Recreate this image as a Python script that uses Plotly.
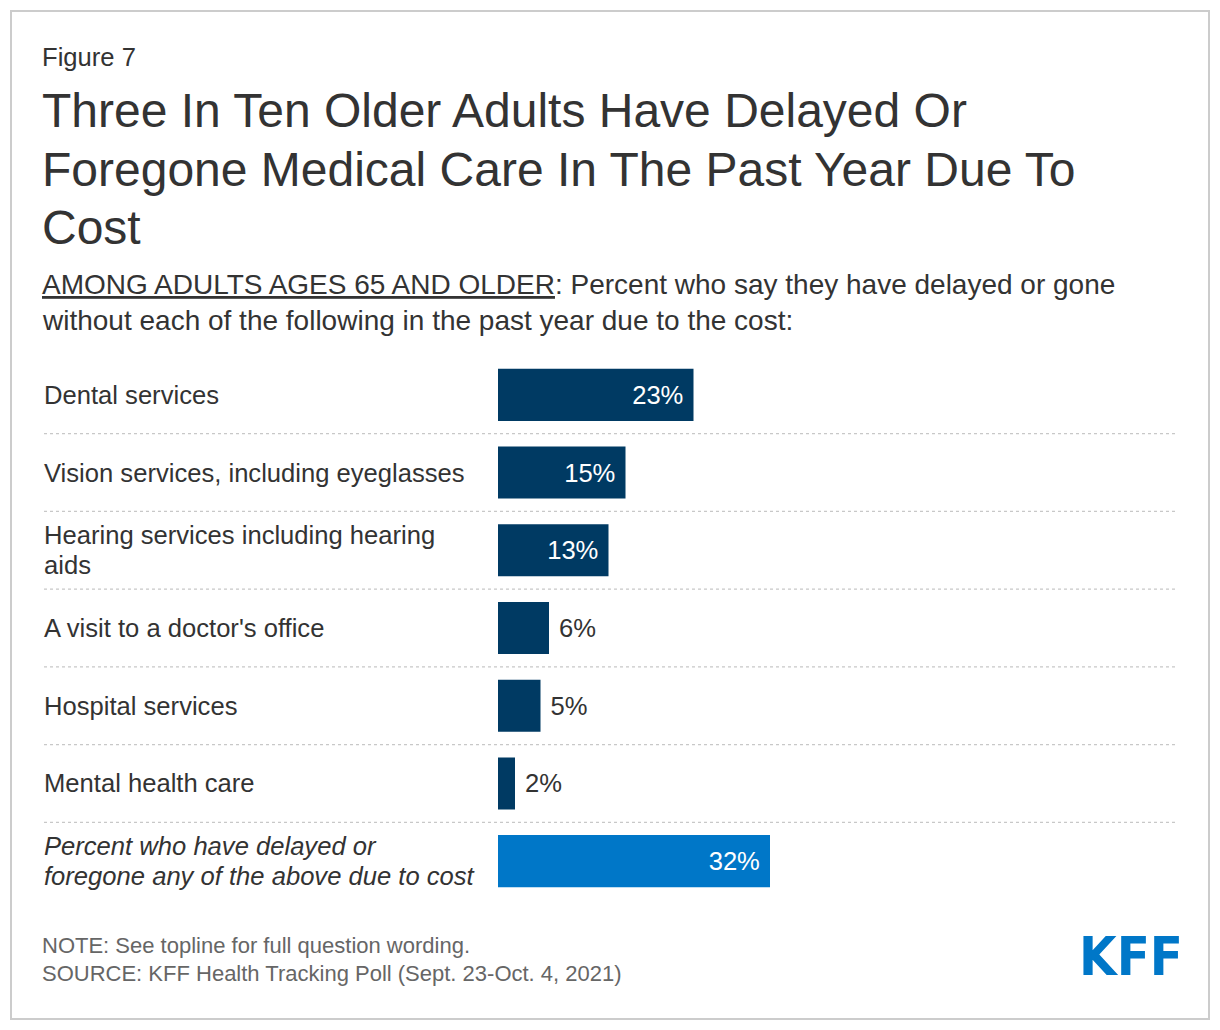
import plotly.graph_objects as go

# ---- data ----
categories = [
    "Dental services",
    "Vision services, including eyeglasses",
    "Hearing services including hearing<br>aids",
    "A visit to a doctor's office",
    "Hospital services",
    "Mental health care",
    "<i>Percent who have delayed or</i><br><i>foregone any of the above due to cost</i>",
]
values = [23, 15, 13, 6, 5, 2, 32]
bar_colors = ["#003A63", "#003A63", "#003A63", "#003A63", "#003A63", "#003A63", "#0077C8"]

fig_label = "Figure 7"
title_lines = [
    "Three In Ten Older Adults Have Delayed Or",
    "Foregone Medical Care In The Past Year Due To",
    "Cost",
]
subtitle_lines = [
    "<u>AMONG ADULTS AGES 65 AND OLDER</u>: Percent who say they have delayed or gone",
    "without each of the following in the past year due to the cost:",
]
note_lines = [
    "NOTE: See topline for full question wording.",
    "SOURCE: KFF Health Tracking Poll (Sept. 23-Oct. 4, 2021)",
]

# ---- geometry (page pixel targets; page body has an 8px margin) ----
OFF = 8
W, H = 1220 - OFF, 1030 - OFF
L, R, T, B = 44 - OFF, 1176 - OFF, 356 - OFF, 900 - OFF
X0_PX = 498 - OFF          # pixel where value 0 sits
PX_PER_UNIT = 8.5
FONT = "Liberation Sans, Arial, sans-serif"
DARK = "#333333"
TEXT_PAD = 2               # annotation box padding


def px(x):
    return (x - OFF - L) / (R - L)


def py(y):
    return (B - (y - OFF)) / (B - T)


xmin = -(X0_PX - L) / PX_PER_UNIT
xmax = (R - X0_PX) / PX_PER_UNIT

NBSP = "\u00a0"
positions = ["inside" if v >= 10 else "outside" for v in values]
texts = [f"{v}%{NBSP}" if p == "inside" else f"{NBSP}{v}%" for v, p in zip(values, positions)]

fig = go.Figure(
    go.Bar(
        x=values,
        y=categories,
        orientation="h",
        marker=dict(color=bar_colors, line=dict(width=0)),
        width=0.67,
        text=texts,
        textposition=positions,
        insidetextanchor="end",
        insidetextfont=dict(family=FONT, size=25.6, color="white"),
        outsidetextfont=dict(family=FONT, size=25.6, color=DARK),
        constraintext="none",
        cliponaxis=False,
        hoverinfo="skip",
    )
)

annotations = []


def add_lines(lines, x_px, y_px_first, gap, size, color):
    for j, line in enumerate(lines):
        annotations.append(dict(
            text=line, x=px(x_px - TEXT_PAD), y=py(y_px_first + j * gap), xref="paper", yref="paper",
            xanchor="left", yanchor="middle", showarrow=False,
            font=dict(family=FONT, size=size, color=color),
        ))


add_lines([fig_label], 42, 57, 0, 25.6, DARK)
add_lines(title_lines, 42, 111, 58, 48, DARK)
add_lines(subtitle_lines, 42, 285, 36, 28, DARK)
add_lines(note_lines, 42, 945, 28, 22, "#666666")

# category labels
LABEL_GAP = 30
for cat in categories:
    parts = cat.split("<br>")
    n = len(parts)
    for j, part in enumerate(parts):
        annotations.append(dict(
            text=part, x=px(44 - TEXT_PAD), y=cat, xref="paper", yref="y",
            xanchor="left", yanchor="middle", showarrow=False,
            yshift=-(j - (n - 1) / 2) * LABEL_GAP,
            font=dict(family=FONT, size=25.6, color=DARK),
        ))

# KFF logo
annotations.append(dict(
    text="<b>KFF</b>", x=px(1077), y=py(956), xref="paper", yref="paper",
    xanchor="left", yanchor="middle", showarrow=False,
    font=dict(family="Liberation Sans Narrow, DejaVu Sans Condensed, Liberation Sans", size=54, color="#0077C8"),
))

shapes = []
# dotted separators between rows
for i in range(len(categories) - 1):
    shapes.append(dict(
        type="line", xref="paper", yref="y", x0=0, x1=1, y0=i + 0.5, y1=i + 0.5,
        line=dict(color="#c8c8c8", width=1.2, dash="dot"), layer="below",
    ))
# outer border
shapes.append(dict(
    type="rect", xref="paper", yref="paper",
    x0=px(11), x1=px(1209), y0=py(11), y1=py(1019),
    line=dict(color="#cccccc", width=2), fillcolor="rgba(0,0,0,0)",
))

fig.update_layout(
    width=W, height=H,
    margin=dict(l=L, r=W - R, t=T, b=H - B, pad=0),
    paper_bgcolor="white", plot_bgcolor="white",
    showlegend=False,
    xaxis=dict(range=[xmin, xmax], visible=False, fixedrange=True),
    yaxis=dict(categoryorder="array", categoryarray=categories, autorange="reversed",
               visible=False, fixedrange=True),
    annotations=annotations,
    shapes=shapes,
    bargap=0.33,
)

fig.write_html("out.html", config={"displayModeBar": False})
